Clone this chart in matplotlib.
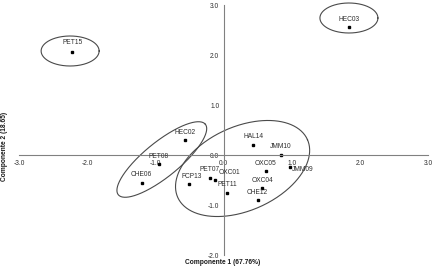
import numpy as np
import matplotlib
matplotlib.use("Agg")
import matplotlib.pyplot as plt
from matplotlib import font_manager

# ---------------- data ----------------
labels = ["PET15", "HEC03", "HEC02", "PET08", "CHE06", "FCP13", "PET07", "OXC01",
          "PET11", "HAL14", "JMM10", "OXC05", "JMM09", "OXC04", "CHE12"]
comp1 = [-2.22, 1.84, -0.56, -0.95, -1.20, -0.50, -0.20, -0.13,
         0.05, 0.44, 0.84, 0.62, 0.98, 0.57, 0.50]
comp2 = [2.06, 2.56, 0.30, -0.17, -0.55, -0.58, -0.46, -0.50,
         -0.75, 0.21, 0.01, -0.32, -0.23, -0.66, -0.89]
xticks = [-3, -2, -1, 0, 1, 2, 3]
yticks = [-2, -1, 0, 1, 2, 3]
xlabel = "Componente 1 (67.76%)"
ylabel = "Componente 2 (18.65)"

# ---------------- style ----------------
W, H, DPI = 4.36, 2.67, 100
avail = {f.name for f in font_manager.fontManager.ttflist}
if "Liberation Sans Narrow" in avail:
    FAM = ["Liberation Sans Narrow", "DejaVu Sans"]
    FS = 5.3
else:
    FAM = ["Liberation Sans", "DejaVu Sans"]
    FS = 4.8
plt.rcParams["font.family"] = FAM

txt_col = "#2e2e2e"
axis_col = "#808080"
ell_col = "#4a4a4a"

fig = plt.figure(figsize=(W, H), dpi=DPI)
ax = fig.add_axes([19 / 436, 12 / 267, 409 / 436, 250 / 267])
ax.set_xlim(-3, 3)
ax.set_ylim(-2, 3)

for s in ["top", "right"]:
    ax.spines[s].set_visible(False)
ax.spines["left"].set_position("zero")
ax.spines["bottom"].set_position("zero")
for s in ["left", "bottom"]:
    ax.spines[s].set_color(axis_col)
    ax.spines[s].set_linewidth(0.8)

ax.set_xticks(xticks)
ax.set_xticklabels([f"{v:.1f}" for v in xticks])
ax.set_yticks(yticks)
ax.set_yticklabels([f"{v:.1f}" for v in yticks])
ax.tick_params(axis="x", length=0, pad=3.5, labelsize=FS, labelcolor=txt_col)
ax.tick_params(axis="y", length=0, pad=3, labelsize=FS, labelcolor=txt_col)
ax.patch.set_alpha(0)

# points
ax.plot(comp1, comp2, linestyle="none", marker="s", markersize=2.0,
        color="black")

# labels
special = {"OXC01": ((4, 7), "left", "center"),
           "JMM09": ((2, -3), "left", "center"),
           "FCP13": ((2, 7), "center", "center"),
           "PET15": ((0, 9), "center", "center"),
           "PET07": ((0, 8.5), "center", "center")}
for lab, x, y in zip(labels, comp1, comp2):
    off, ha, va = special.get(lab, ((0, 7.5), "center", "center"))
    ax.annotate(lab, (x, y), xytext=off, textcoords="offset pixels",
                ha=ha, va=va, fontsize=FS, color=txt_col)

# ellipses (center in data units, semi-axes in pixels, angle in degrees)
sx = 409 / 6.0
sy = 250 / 5.0
ellipses = [((-2.25, 2.08), 29, 15, 0),
            ((1.84, 2.74), 29, 15, 0),
            ((-0.905, -0.09), 56, 17.5, 39),
            ((0.28, -0.27), 71, 42, 24)]
t = np.linspace(0, 2 * np.pi, 400)
for (cx, cy), a, b, ang in ellipses:
    th = np.deg2rad(ang)
    u = a * np.cos(t) * np.cos(th) - b * np.sin(t) * np.sin(th)
    v = a * np.cos(t) * np.sin(th) + b * np.sin(t) * np.cos(th)
    ax.plot(cx + u / sx, cy + v / sy, color=ell_col, linewidth=0.8,
            clip_on=False)

# axis titles
fig.text(223 / 436, 1 - 263 / 267, xlabel, ha="center", va="center",
         fontsize=FS, fontweight="bold", color="#1a1a1a")
fig.text(5 / 436, 1 - 146 / 267, ylabel, ha="center", va="center",
         rotation=90, fontsize=FS, fontweight="bold", color="#1a1a1a")

fig.savefig("out.png", dpi=DPI)
